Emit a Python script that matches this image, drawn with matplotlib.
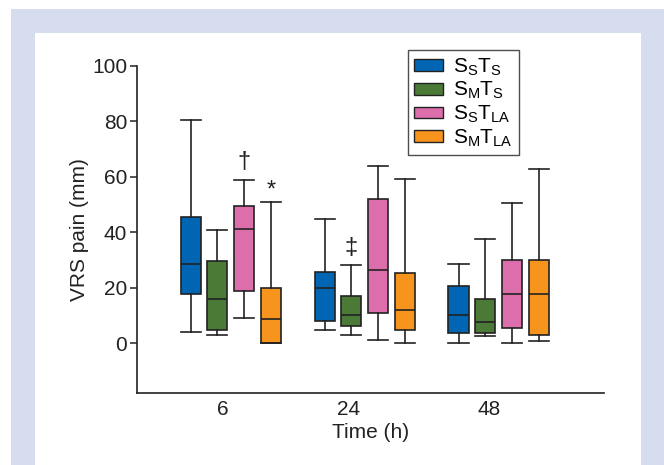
import matplotlib.pyplot as plt
from matplotlib.patches import Patch, Rectangle

plt.rcParams['font.family'] = ['Liberation Sans', 'DejaVu Sans']
plt.rcParams['mathtext.fontset'] = 'custom'
plt.rcParams['mathtext.rm'] = 'Liberation Sans'
plt.rcParams['mathtext.it'] = 'Liberation Sans'

# datos (mm)
horas = ['6', '24', '48']
grupos = [r'$\mathrm{S_ST_S}$', r'$\mathrm{S_MT_S}$', r'$\mathrm{S_ST_{LA}}$', r'$\mathrm{S_MT_{LA}}$']
colores = ['#0066b3', '#4a7a35', '#dc6fab', '#f7941d']

# cada caja: (bigote inf, q1, mediana, q3, bigote sup)
h6 = [(4.0, 17.8, 28.6, 45.5, 80.4),
      (2.9, 4.8, 15.9, 29.5, 40.7),
      (8.9, 18.6, 41.0, 49.5, 58.7),
      (0.0, 0.0, 8.5, 19.9, 50.9)]
h24 = [(4.7, 7.8, 19.7, 25.6, 44.7),
       (3.0, 6.0, 10.0, 17.0, 28.2),
       (1.0, 10.7, 26.3, 51.8, 63.9),
       (0.0, 4.7, 11.8, 25.2, 59.3)]
h48 = [(0.0, 3.7, 10.3, 20.7, 28.6),
       (2.6, 3.7, 7.6, 16.0, 37.7),
       (0.1, 5.5, 17.8, 30.0, 50.6),
       (0.7, 2.8, 17.7, 29.9, 62.6)]
datos = [h6, h24, h48]

# marcas de significancia: (hora, grupo, simbolo, altura)
marcas = [(0, 2, '\u2020', 65.3), (0, 3, '*', 55.0), (1, 1, '\u2021', 34.2)]

fig = plt.figure(figsize=(6.64, 4.65), dpi=100)

# fondo tipo marco
fig.patches.append(Rectangle((11 / 664, 0), 653 / 664, 456 / 465, transform=fig.transFigure,
                             facecolor='#d5ddef', edgecolor='none', zorder=-2))
fig.patches.append(Rectangle((35 / 664, 0), 606 / 664, 432 / 465, transform=fig.transFigure,
                             facecolor='white', edgecolor='none', zorder=-1))

ax = fig.add_axes([137 / 664, 1 - 393 / 465, 467 / 664, 327.3 / 465])
ax.patch.set_alpha(0)

desp = [-0.3, -0.1, 0.1, 0.3]
for i, hora in enumerate(datos):
    for j, (wl, q1, med, q3, wh) in enumerate(hora):
        st = [{'whislo': wl, 'q1': q1, 'med': med, 'q3': q3, 'whishi': wh, 'fliers': []}]
        ax.bxp(st, positions=[i + desp[j]], widths=0.15, patch_artist=True, manage_ticks=False,
               showfliers=False,
               boxprops=dict(facecolor=colores[j], edgecolor='#222222', linewidth=1.2),
               medianprops=dict(color='#222222', linewidth=1.2),
               whiskerprops=dict(color='#222222', linewidth=1.2),
               capprops=dict(color='#222222', linewidth=1.2),
               capwidths=0.15)

for i, j, s, yv in marcas:
    ax.text(i + desp[j], yv, s, ha='center', va='center', fontsize=17, color='#222222')

ax.set_xlim(-0.70, 2.786)
ax.set_ylim(-18, 100)
ax.set_yticks([0, 20, 40, 60, 80, 100])
ax.set_xticks([-0.06, 0.88, 1.93])
ax.set_xticklabels(horas)
ax.tick_params(axis='x', length=0, pad=5, labelsize=15, colors='#222222')
ax.tick_params(axis='y', length=5, width=1.1, pad=2, labelsize=15, colors='#222222')
for s in ['top', 'right']:
    ax.spines[s].set_visible(False)
for s in ['left', 'bottom']:
    ax.spines[s].set_linewidth(1.2)
    ax.spines[s].set_color('#222222')

ax.set_ylabel('VRS pain (mm)', fontsize=15, color='#222222', labelpad=2)
ax.set_xlabel('Time (h)', fontsize=15, color='#222222', labelpad=3)

handles = [Patch(facecolor=c, edgecolor='#222222', linewidth=1.0) for c in colores]
leg = fig.legend(handles, grupos, loc='upper left', bbox_to_anchor=(408 / 664, 1 - 50 / 465),
                 bbox_transform=fig.transFigure, fontsize=15, frameon=True, fancybox=False,
                 handlelength=1.4, handleheight=0.5, handletextpad=0.45, labelspacing=0.12,
                 borderpad=0.3, borderaxespad=0)
leg.get_frame().set_edgecolor('#222222')
leg.get_frame().set_linewidth(1.0)

fig.savefig('out.png', dpi=100)
